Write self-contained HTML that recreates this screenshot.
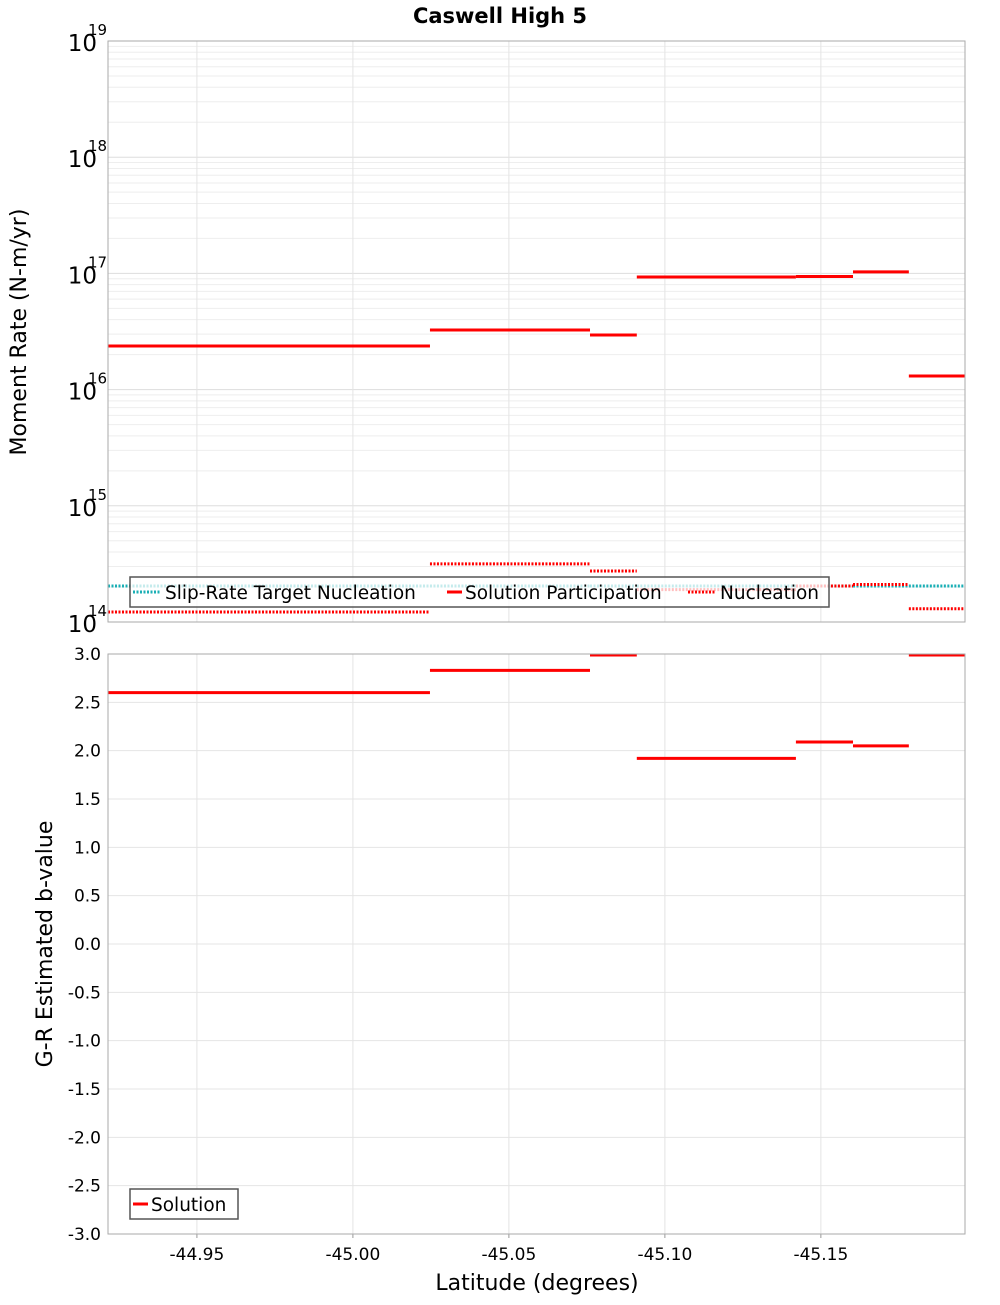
<!DOCTYPE html>
<html><head><meta charset="utf-8"><style>
body{margin:0;background:#fff;}
svg{font-family:"DejaVu Sans","Liberation Sans",sans-serif;}
</style></head><body>
<svg id="c" width="1000" height="1300"></svg>
<script>
const edges=[-44.9215,-45.0247,-45.0760,-45.0910,-45.1420,-45.1603,-45.1782,-45.1962];
const participation=[2.37e16,3.26e16,2.95e16,9.3e16,9.4e16,1.03e17,1.31e16];
const nucleation=[1.22e14,3.16e14,2.75e14,1.9e14,2.04e14,2.1e14,1.3e14];
const targetNucleation=[2.04e14,2.04e14,2.04e14,2.04e14,2.04e14,2.04e14,2.04e14];
const bvalues=[2.60,2.83,3.0,1.92,2.09,2.05,3.0];
const xTicks=[-44.95,-45.00,-45.05,-45.10,-45.15];
const xTickLabels=["-44.95","-45.00","-45.05","-45.10","-45.15"];
const yDecades=[14,15,16,17,18,19];
const bTicks=[3,2.5,2,1.5,1,0.5,0,-0.5,-1,-1.5,-2,-2.5,-3];

const NS="http://www.w3.org/2000/svg";
const svg=document.getElementById('c');
function el(t,a,p){const e=document.createElementNS(NS,t);for(const k in a)e.setAttribute(k,a[k]);(p||svg).appendChild(e);return e;}
const L=108,R=965,T1=41,B1=622,T2=654,B2=1234;
const xs=v=>L+(v-edges[0])/(edges[edges.length-1]-edges[0])*(R-L);
const ys1=v=>B1-(Math.log10(v)-14)/5*(B1-T1);
const ys2=v=>B2-(v+3)/6*(B2-T2);

let t=el('text',{x:500,y:23,'text-anchor':'middle','font-size':21,'font-weight':'bold'});t.textContent='Caswell High 5';


const g1=el('g',{});
for(let d=14;d<19;d++)for(let m=1;m<10;m++){const y=ys1(m*Math.pow(10,d));el('line',{x1:L,x2:R,y1:y,y2:y,stroke:m==1?'#ddd':'#eee','stroke-width':1},g1);}
xTicks.forEach(v=>{el('line',{x1:xs(v),x2:xs(v),y1:T1,y2:B1,stroke:'#e4e4e4'},g1);el('line',{x1:xs(v),x2:xs(v),y1:T2,y2:B2,stroke:'#e4e4e4'},g1);el('line',{x1:xs(v),x2:xs(v),y1:B2,y2:B2+4,stroke:'#999'},g1);});
bTicks.forEach(v=>el('line',{x1:L,x2:R,y1:ys2(v),y2:ys2(v),stroke:'#e4e4e4'},g1));

yDecades.forEach(d=>{const y=ys1(Math.pow(10,d));
 const tx=el('text',{x:97,y:y+10,'text-anchor':'end','font-size':23});tx.textContent='10';
 
 const sp=el('text',{x:88,y:y-6,'font-size':15});sp.textContent=String(d);
 });
bTicks.forEach(v=>{const tx=el('text',{x:101,y:ys2(v)+6,'text-anchor':'end','font-size':17});tx.textContent=v.toFixed(1);
 });
xTicks.forEach((v,i)=>{const tx=el('text',{x:xs(v),y:1260,'text-anchor':'middle','font-size':17});tx.textContent=xTickLabels[i];
 });

for(let i=0;i<7;i++){
 const x1=xs(edges[i]),x2=xs(edges[i+1]);
 let l=el('line',{x1,x2,y1:ys1(targetNucleation[i]),y2:ys1(targetNucleation[i]),stroke:'#1aafb5','stroke-width':3,'stroke-dasharray':'2,1.5'});
 
 l=el('line',{x1,x2,y1:ys1(nucleation[i]),y2:ys1(nucleation[i]),stroke:'#f00','stroke-width':3,'stroke-dasharray':'2,1.5'});
 
 l=el('line',{x1,x2,y1:ys1(participation[i]),y2:ys1(participation[i]),stroke:'#f00','stroke-width':3});
 
 const yb=Math.max(ys2(bvalues[i]),T2+1);
 l=el('line',{x1,x2,y1:yb,y2:yb,stroke:'#f00','stroke-width':3});
 
}

let f=el('rect',{x:L,y:T1,width:R-L,height:B1-T1,fill:'none',stroke:'#aaa'});
f=el('rect',{x:L,y:T2,width:R-L,height:B2-T2,fill:'none',stroke:'#aaa'});

const lg=el('g',{});
el('rect',{x:130,y:577,width:699,height:30,fill:'rgba(255,255,255,0.75)',stroke:'#555','stroke-width':1.5},lg);
el('line',{x1:133,x2:161,y1:592,y2:592,stroke:'#1aafb5','stroke-width':3,'stroke-dasharray':'2,1.5'},lg);
let lt=el('text',{x:165,y:599,'font-size':18.5},lg);lt.textContent='Slip-Rate Target Nucleation';
el('line',{x1:447,x2:462,y1:592,y2:592,stroke:'#f00','stroke-width':3},lg);
lt=el('text',{x:465,y:599,'font-size':18.5},lg);lt.textContent='Solution Participation';
el('line',{x1:688,x2:716,y1:592,y2:592,stroke:'#f00','stroke-width':3,'stroke-dasharray':'2,1.5'},lg);
lt=el('text',{x:720,y:599,'font-size':18.5},lg);lt.textContent='Nucleation';
const lg2=el('g',{});
el('rect',{x:130,y:1189,width:108,height:30,fill:'#fff',stroke:'#555','stroke-width':1.5},lg2);
el('line',{x1:133,x2:148,y1:1204,y2:1204,stroke:'#f00','stroke-width':3},lg2);
lt=el('text',{x:151,y:1211,'font-size':18.5},lg2);lt.textContent='Solution';

t=el('text',{x:0,y:0,'font-size':22,'text-anchor':'middle',transform:'translate(26,332) rotate(-90)'});t.textContent='Moment Rate (N-m/yr)';

t=el('text',{x:0,y:0,'font-size':22,'text-anchor':'middle',transform:'translate(52,944) rotate(-90)'});t.textContent='G-R Estimated b-value';

t=el('text',{x:537,y:1290,'font-size':22,'text-anchor':'middle'});t.textContent='Latitude (degrees)';

</script>
</body></html>
